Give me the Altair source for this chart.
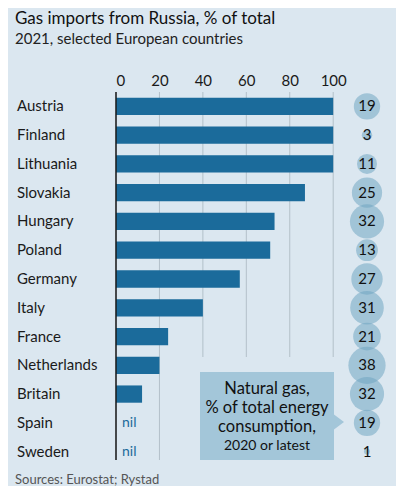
import altair as alt
import pandas as pd

countries = ["Austria", "Finland", "Lithuania", "Slovakia", "Hungary", "Poland",
             "Germany", "Italy", "France", "Netherlands", "Britain", "Spain", "Sweden"]
russia_share = [100, 100, 100, 87, 73, 71, 57, 40, 24, 20, 12, 0, 0]
gas_share = [19, 3, 11, 25, 32, 13, 27, 31, 21, 38, 32, 19, 1]
nil_label = ["", "", "", "", "", "", "", "", "", "", "", "nil", "nil"]
x_ticks = [0, 20, 40, 60, 80, 100]
callout_main = ["Natural gas,", "% of total energy", "consumption,"]
callout_small = "2020 or latest"

df = pd.DataFrame({"country": countries, "russia": russia_share,
                   "gas": gas_share, "nil": nil_label})
one = pd.DataFrame({"a": [0]})

BG = "#dbe7f0"
BAR = "#1b6b9b"
BOX = "#a3c6d9"
FONT = "Lato"
W, H = 278, 374

yenc = alt.Y("country:N", sort=countries,
             scale=alt.Scale(paddingInner=0.4, paddingOuter=0.2), axis=None)
xscale = alt.Scale(domain=[0, 128], nice=False, zero=True)

grid = alt.Chart(pd.DataFrame({"t": x_ticks})).mark_rule(
    color="#b3c0c9", strokeWidth=1).encode(
    x=alt.X("t:Q", scale=xscale, title=None,
            axis=alt.Axis(orient="top", values=x_ticks, domain=False, ticks=False,
                          grid=False, labelFontSize=15, labelPadding=4,
                          labelColor="#1a1a1a", labelFont=FONT)),
    y=alt.value(0), y2=alt.value(368))

bg_rect = alt.Chart(one).mark_rect(color=BG).encode(
    x=alt.value(80), x2=alt.value(226), y=alt.value(265), y2=alt.value(374))

box = alt.Chart(one).mark_rect(color=BOX).encode(
    x=alt.value(84), x2=alt.value(218), y=alt.value(280), y2=alt.value(368))

pointer = alt.Chart(one).mark_point(
    shape="M-0.67,-1L0.67,0L-0.67,1Z", filled=True, color=BOX, opacity=1,
    size=225, strokeWidth=0).encode(x=alt.value(223), y=alt.value(330))

bars = alt.Chart(df).mark_bar(color=BAR).encode(
    x=alt.X("russia:Q", scale=xscale), y=yenc)

zero_line = alt.Chart(one).mark_rule(color="#1a1a1a", strokeWidth=1.5).encode(
    x=alt.value(0), y=alt.value(0), y2=alt.value(368))

nil_text = alt.Chart(df).transform_filter("datum.nil != ''").mark_text(
    align="left", baseline="middle", dx=6, fontSize=14, color=BAR, font=FONT).encode(
    x=alt.value(0), y=yenc, text="nil:N")

labels = alt.Chart(df).mark_text(
    align="left", baseline="middle", fontSize=15, color="#1a1a1a", font=FONT).encode(
    x=alt.value(-99), y=yenc, text="country:N")

bubbles = alt.Chart(df).mark_circle(color="#6ea5c1", opacity=0.53).encode(
    x=alt.value(251), y=yenc,
    size=alt.Size("gas:Q", scale=alt.Scale(type="linear", domain=[0, 38],
                                           range=[0, 1387]), legend=None))

bubble_text = alt.Chart(df).mark_text(
    baseline="middle", fontSize=15, color="#111111", font=FONT).encode(
    x=alt.value(251), y=yenc, text="gas:Q")

callout_layers = []
for i, line in enumerate(callout_main):
    callout_layers.append(
        alt.Chart(one).mark_text(text=line, fontSize=16.5, color="#111111",
                                 font=FONT, baseline="middle").encode(
            x=alt.value(151), y=alt.value(297 + 19 * i)))
callout_layers.append(
    alt.Chart(one).mark_text(text=callout_small, fontSize=14, color="#111111",
                             font=FONT, baseline="middle").encode(
        x=alt.value(151), y=alt.value(354)))

sources = alt.Chart(one).mark_text(
    text="Sources: Eurostat; Rystad", align="left", baseline="middle",
    fontSize=13, color="#555555", font=FONT).encode(
    x=alt.value(-101), y=alt.value(388))

chart = alt.layer(
    grid, bg_rect, box, pointer, bars, zero_line, nil_text, labels,
    bubbles, bubble_text, *callout_layers, sources
).properties(
    width=W, height=H,
    autosize=alt.AutoSizeParams(type="none"),
    padding={"left": 108, "top": 84, "right": 2, "bottom": 20},
    background=BG,
    title=alt.TitleParams(
        text="Gas imports from Russia, % of total",
        subtitle="2021, selected European countries",
        anchor="start", frame="group", dx=-101, offset=25,
        font=FONT, fontSize=17, fontWeight="normal", color="#111111",
        subtitleFont=FONT, subtitleFontSize=15, subtitleColor="#222222",
        subtitlePadding=4),
).configure_view(stroke=None)

chart.save("out.html", embed_options={"renderer": "svg", "actions": False})
